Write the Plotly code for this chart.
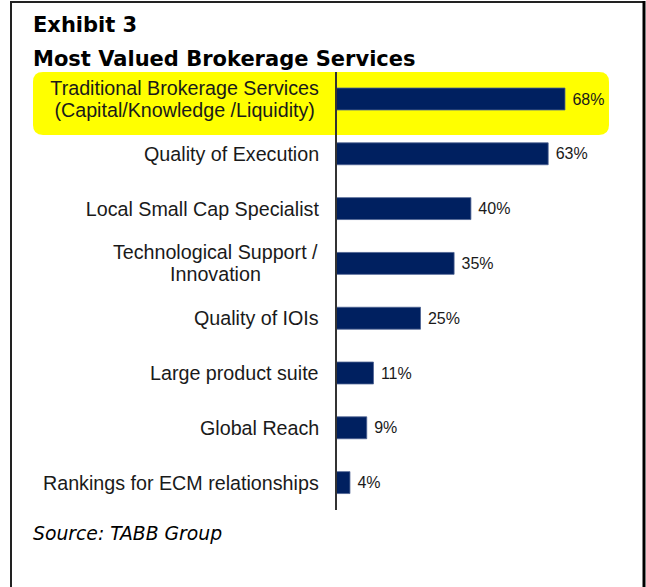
import plotly.graph_objects as go

# Survey results: share of respondents valuing each brokerage service (%)
services = [
    "Traditional Brokerage Services<br>(Capital/Knowledge /Liquidity)",
    "Quality of Execution",
    "Local Small Cap Specialist",
    "Technological Support /<br>Innovation",
    "Quality of IOIs",
    "Large product suite",
    "Global Reach",
    "Rankings for ECM relationships",
]
shares = [68, 63, 40, 35, 25, 11, 9, 4]

title_line1 = "Exhibit 3"
title_line2 = "Most Valued Brokerage Services"
source_note = "Source: TABB Group"

W, H = 646, 587
LABEL_SIZE = 19.7
LINE_GAP = 22  # px between lines of a wrapped category label

# Arial / Liberation Sans advance widths (per 1000 em) for label layout
_ARIAL = {
    " ": 278, "/": 278, "(": 333, ")": 333,
    "A": 667, "B": 667, "C": 722, "E": 667, "G": 778, "I": 278, "K": 667,
    "L": 556, "M": 833, "O": 778, "Q": 778, "R": 722, "S": 667, "T": 611,
    "a": 556, "b": 556, "c": 500, "d": 556, "e": 556, "f": 278, "g": 556,
    "h": 556, "i": 222, "k": 500, "l": 222, "m": 833, "n": 556, "o": 556,
    "p": 556, "q": 556, "r": 333, "s": 500, "t": 278, "u": 556, "v": 500,
    "w": 722, "x": 500, "y": 500, "z": 500,
}


def text_width(s, size):
    return sum(_ARIAL.get(ch, 556) for ch in s) / 1000 * size


def px_x(x):
    return x / W


def px_y(y):
    return 1 - y / H


def rounded_rect(x0, y0, x1, y1, r):
    """SVG path (paper coords) for a rounded rectangle given in pixels."""
    pts = [
        ("M", x0 + r, y0),
        ("L", x1 - r, y0),
        ("Q", x1, y0, x1, y0 + r),
        ("L", x1, y1 - r),
        ("Q", x1, y1, x1 - r, y1),
        ("L", x0 + r, y1),
        ("Q", x0, y1, x0, y1 - r),
        ("L", x0, y0 + r),
        ("Q", x0, y0, x0 + r, y0),
    ]
    parts = []
    for p in pts:
        cmd, coords = p[0], p[1:]
        xy = []
        for i in range(0, len(coords), 2):
            xy.append(f"{px_x(coords[i]):.5f},{px_y(coords[i + 1]):.5f}")
        parts.append(cmd + " " + " ".join(xy))
    return " ".join(parts) + " Z"


label_font = dict(family="Liberation Sans, Arial, sans-serif", size=LABEL_SIZE, color="#1a1a1a")

fig = go.Figure()
fig.add_trace(
    go.Bar(
        x=shares,
        y=services,
        orientation="h",
        marker=dict(color="#002060", line=dict(color="#4b6190", width=0.8)),
        text=[f" {v}%" for v in shares],
        textposition="outside",
        textfont=dict(family="Liberation Sans, Arial, sans-serif", size=16, color="#1a1a1a"),
        constraintext="none",
        cliponaxis=False,
        hoverinfo="skip",
    )
)

annotations = []
# Category labels: right edge at the axis, wrapped lines centred in one block
for name in services:
    lines = name.split("<br>")
    block_w = max(text_width(ln, LABEL_SIZE) for ln in lines) + 6
    n = len(lines)
    for i, ln in enumerate(lines):
        annotations.append(
            dict(
                x=px_x(324),
                xref="paper",
                y=name,
                yref="y",
                yshift=((n - 1) / 2 - i) * LINE_GAP,
                text=ln,
                width=block_w,
                xanchor="right",
                yanchor="middle",
                align="center",
                showarrow=False,
                font=label_font,
            )
        )

annotations += [
    dict(
        x=px_x(30.5), y=px_y(25.5), xref="paper", yref="paper",
        text=f"<b>{title_line1}</b>", xanchor="left", yanchor="middle",
        showarrow=False,
        font=dict(family="DejaVu Sans, Verdana, sans-serif", size=21, color="#000000"),
    ),
    dict(
        x=px_x(30.5), y=px_y(58.5), xref="paper", yref="paper",
        text=f"<b>{title_line2}</b>", xanchor="left", yanchor="middle",
        showarrow=False,
        font=dict(family="DejaVu Sans, Verdana, sans-serif", size=21, color="#000000"),
    ),
    dict(
        x=px_x(30.5), y=px_y(533.5), xref="paper", yref="paper",
        text=f"<i>{source_note}</i>", xanchor="left", yanchor="middle",
        showarrow=False,
        font=dict(family="DejaVu Sans, Verdana, sans-serif", size=18.8, color="#000000"),
    ),
]

shapes = [
    # highlight behind the first category
    dict(
        type="path", xref="paper", yref="paper", layer="below",
        path=rounded_rect(33, 72, 609, 135, 10),
        fillcolor="#FFFF00", line=dict(width=0),
    ),
    # outer frame (top, left, right)
    dict(type="line", xref="paper", yref="paper",
         x0=px_x(10), x1=px_x(645), y0=px_y(2), y1=px_y(2),
         line=dict(color="#222222", width=2)),
    dict(type="line", xref="paper", yref="paper",
         x0=px_x(11), x1=px_x(11), y0=px_y(1), y1=px_y(H + 2),
         line=dict(color="#222222", width=2)),
    dict(type="line", xref="paper", yref="paper",
         x0=px_x(644), x1=px_x(644), y0=px_y(1), y1=px_y(H + 2),
         line=dict(color="#000000", width=3)),
]

fig.update_layout(
    width=W,
    height=H,
    margin=dict(l=0, r=0, t=0, b=0),
    paper_bgcolor="#ffffff",
    plot_bgcolor="rgba(0,0,0,0)",
    showlegend=False,
    bargap=0.6,
    xaxis=dict(
        domain=[px_x(336.5), px_x(643)],
        range=[0, (643 - 336.5) / 3.36],
        showgrid=False, zeroline=False, showticklabels=False, showline=False,
        fixedrange=True,
    ),
    yaxis=dict(
        domain=[px_y(510), px_y(71.6)],
        autorange="reversed",
        showgrid=False, zeroline=False, showticklabels=False,
        showline=True, linecolor="#333333", linewidth=1.5,
        ticks="", fixedrange=True,
    ),
    annotations=annotations,
    shapes=shapes,
)

fig.write_html("out.html")
